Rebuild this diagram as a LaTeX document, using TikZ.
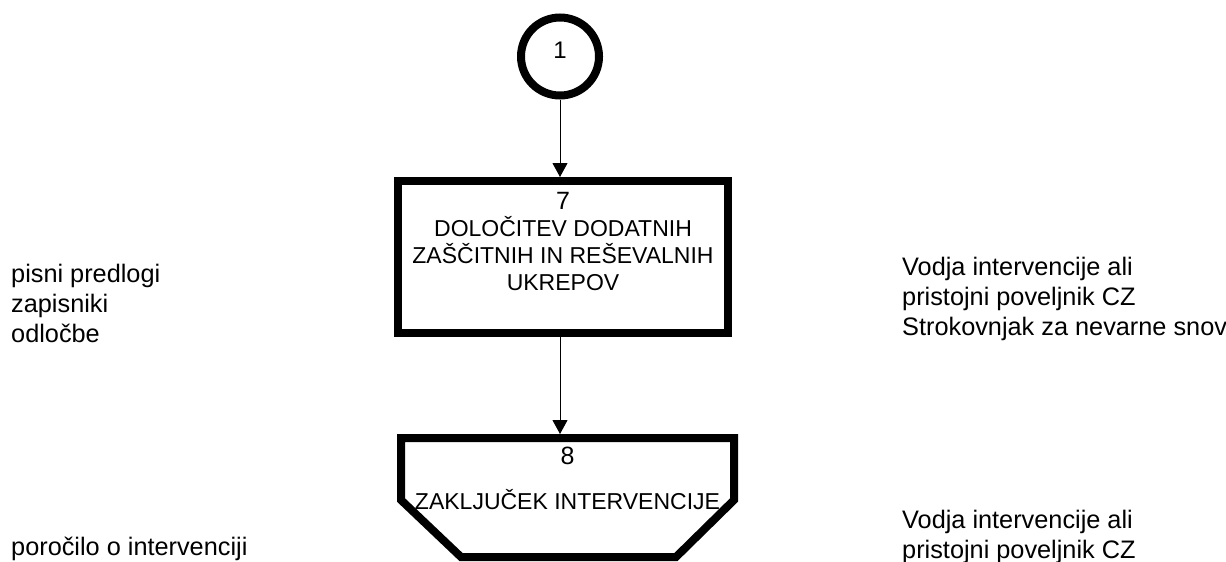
\documentclass[tikz,border=0pt]{standalone}
\usepackage{fontspec}
\setmainfont{Liberation Sans}
\usetikzlibrary{arrows.meta,positioning}
\tikzset{>={Triangle[width=15pt,length=14pt]},
  konektor/.style={circle, draw, line width=8pt, minimum size=78pt, inner sep=0pt, text depth=12pt, font=\fontsize{24}{27}\selectfont},
  korak/.style={draw, line width=8pt, minimum width=330pt, minimum height=152pt, inner sep=0pt},
  korakbesedilo/.style={align=center, inner sep=0pt, anchor=north, font=\fontsize{23}{27}\selectfont},
  opis/.style={align=left, inner sep=0pt, anchor=north west, font=\fontsize{25.3}{30}\selectfont},
  puscica/.style={->, line width=1pt}
}
\newcommand{\stevilka}[1]{{\fontsize{25}{27}\selectfont #1}}

\begin{document}
\begin{tikzpicture}[x=1pt, y=-1pt]
\useasboundingbox (0,0) rectangle (1226,562);
\clip (0,0) rectangle (1226,562);
% koraki
\node[konektor] (k1) at (560,56.5) {1};
\node[korak] (k7) at (563,257) {};
\node[korakbesedilo, below=15pt of k7.north] (t7) {\stevilka{7}\\DOLOČITEV DODATNIH\\ZAŠČITNIH IN REŠEVALNIH\\UKREPOV};
\node[minimum width=333pt, minimum height=119pt, inner sep=0pt, outer sep=0pt] (k8) at (567.5,497.5) {};
\draw[line width=8pt] (k8.north west) -- ([yshift=-62pt]k8.north west) -- ([xshift=60pt]k8.south west)
  -- ([xshift=-58pt]k8.south east) -- ([yshift=-62pt]k8.north east) -- (k8.north east) -- cycle;
\node[korakbesedilo, below=9pt of k8.north] (t8) {\stevilka{8}\\[18pt]ZAKLJUČEK INTERVENCIJE};
% povezave
\draw[puscica] (k1) -- (k1 |- k7.north);
\draw[puscica, shorten >=4pt] (k7.south -| k1) -- (k8.north -| k1);
% dokumenti in izvajalci
\node[opis] (dok7) at (11,263.5) {pisni predlogi\\zapisniki\\odločbe};
\node[opis, anchor=base west] (dok8) at (11,555) {poročilo o intervenciji};
\node[opis] (izv7) at (902,256.5) {Vodja intervencije ali\\pristojni poveljnik CZ\\Strokovnjak za nevarne snovi};
\node[opis] (izv8) at (902,509.5) {Vodja intervencije ali\\pristojni poveljnik CZ};
\end{tikzpicture}
\end{document}
